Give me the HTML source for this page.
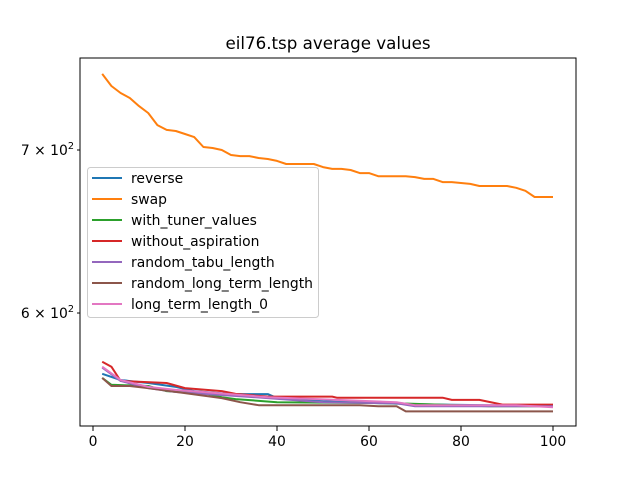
<!DOCTYPE html>
<html><head><meta charset="utf-8"><style>
body{margin:0;background:#fff}
svg{font-family:"DejaVu Sans","Liberation Sans",sans-serif}
</style></head><body>
<svg id="chart" width="640" height="480" xmlns="http://www.w3.org/2000/svg">
<rect width="640" height="480" fill="#fff"/>
<text x="328" y="49" font-size="16.7" text-anchor="middle">eil76.tsp average values</text>
<g id="series"></g>
<rect x="80" y="58" width="496" height="368" fill="none" stroke="#000" stroke-width="1"/>
<g id="xticks"></g>
<g id="yticks"></g>
<g id="legend"></g>
</svg>
<script>
const xTicks = [0, 20, 40, 60, 80, 100];
const yTicks = [600, 700];
const yTickLabels = ["6", "7"];
const seriesNames = ["reverse","swap","with_tuner_values","without_aspiration","random_tabu_length","random_long_term_length","long_term_length_0"];
const seriesColors = ["#1f77b4","#ff7f0e","#2ca02c","#d62728","#9467bd","#8c564b","#e377c2"];
const reverseX = [2,6,12,18,22,30,38,40,50,70,86,100];
const reverseY = [566.5,563.2,561.6,559.5,557.3,555.7,555.7,553.6,552.0,550.4,549.9,549.9];
const swapX = [2,4,6,8,10,12,14,16,18,20,22,24,26,28,30,32,34,36,38,40,42,48,50,52,54,56,58,60,62,68,70,72,74,76,78,80,82,84,90,92,94,96,100];
const swapY = [752.2,743.7,738.8,735.3,729.7,724.9,716.7,713.4,712.7,710.7,708.6,702.0,701.3,700,696.7,696.0,696.0,694.7,694.1,692.8,690.8,690.8,688.8,687.6,687.6,686.9,684.9,684.9,682.9,682.9,682.3,681.1,681.1,679.1,679.1,678.5,677.9,676.6,676.6,675.4,673.5,669.6,669.6];
const tunerX = [2,4,12,16,25,28,31,40,66,86,100];
const tunerY = [564.3,560.6,560.0,557.3,555.7,554.1,553.1,551.5,550.9,549.4,549.4];
const noAspX = [2,4,6,16,20,28,31,38,52,53,76,78,84,89,100];
const noAspY = [573.0,570.3,562.7,561.6,558.9,557.3,555.8,554.4,554.4,553.8,553.8,552.7,552.7,550.2,550.2];
const randTabuX = [2,6,12,18,38,50,66,70,100];
const randTabuY = [569.8,562.7,558.9,556.8,553.6,551.5,550.9,549.4,549.4];
const randLongX = [2,4,8,12,28,32,36,58,62,66,68,100];
const randLongY = [564.3,560.0,560.0,558.9,553.6,551.5,549.9,549.9,549.4,549.4,546.7,546.7];
const lt0X = [2,6,12,18,38,66,70,92,100];
const lt0Y = [570.3,563.2,559.5,557.9,554.1,551.5,549.9,549.9,548.8];

const allX = [reverseX, swapX, tunerX, noAspX, randTabuX, randLongX, lt0X];
const allY = [reverseY, swapY, tunerY, noAspY, randTabuY, randLongY, lt0Y];

const NS = "http://www.w3.org/2000/svg";
function xs(v){ return 93 + v * 4.6; }
function ys(v){ return 150 - (Math.log10(v) - Math.log10(700)) * 2435; }

const sg = document.getElementById('series');
[0,1,2,3,4,5,6].forEach(i => {
  const p = document.createElementNS(NS, 'polyline');
  p.setAttribute('points', allX[i].map((x, j) => xs(x).toFixed(1) + ',' + ys(allY[i][j]).toFixed(1)).join(' '));
  p.setAttribute('fill', 'none');
  p.setAttribute('stroke', seriesColors[i]);
  p.setAttribute('stroke-width', '2');
  p.setAttribute('stroke-linejoin', 'round');
  
  
  sg.appendChild(p);
});

const xg = document.getElementById('xticks');
xTicks.forEach(t => {
  const l = document.createElementNS(NS, 'line');
  l.setAttribute('x1', xs(t)); l.setAttribute('x2', xs(t));
  l.setAttribute('y1', 426); l.setAttribute('y2', 431);
  l.setAttribute('stroke', '#000');
  
  
  xg.appendChild(l);
  const tx = document.createElementNS(NS, 'text');
  tx.setAttribute('x', xs(t)); tx.setAttribute('y', 446);
  tx.setAttribute('font-size', '13.9'); tx.setAttribute('text-anchor', 'middle');
  tx.textContent = t;
  
  
  xg.appendChild(tx);
});

const yg = document.getElementById('yticks');
yTicks.forEach((t, i) => {
  const y = ys(t);
  const l = document.createElementNS(NS, 'line');
  l.setAttribute('x1', 77); l.setAttribute('x2', 80);
  l.setAttribute('y1', y); l.setAttribute('y2', y);
  l.setAttribute('stroke', '#000');
  
  
  yg.appendChild(l);
  const tx = document.createElementNS(NS, 'text');
  tx.setAttribute('x', 74); tx.setAttribute('y', y + 5);
  tx.setAttribute('font-size', '13.9'); tx.setAttribute('text-anchor', 'end');
  tx.innerHTML = yTickLabels[i] + ' × 10<tspan dy="-6" font-size="9.7">2</tspan>';
  
  
  yg.appendChild(tx);
});

const lg = document.getElementById('legend');
const box = document.createElementNS(NS, 'rect');
box.setAttribute('x', 87.5); box.setAttribute('y', 167.5);
box.setAttribute('width', 231); box.setAttribute('height', 150);
box.setAttribute('rx', 3);
box.setAttribute('fill', '#fff'); box.setAttribute('fill-opacity', '0.8');
box.setAttribute('stroke', '#ccc');


lg.appendChild(box);
seriesNames.forEach((n, i) => {
  const y = 178 + i * 21;
  const l = document.createElementNS(NS, 'line');
  l.setAttribute('x1', 92); l.setAttribute('x2', 122);
  l.setAttribute('y1', y); l.setAttribute('y2', y);
  l.setAttribute('stroke', seriesColors[i]); l.setAttribute('stroke-width', '2');
  
  
  lg.appendChild(l);
  const tx = document.createElementNS(NS, 'text');
  tx.setAttribute('x', 131); tx.setAttribute('y', y + 5);
  tx.setAttribute('font-size', '13.9');
  tx.textContent = n;
  
  
  lg.appendChild(tx);
});
</script>
</body></html>
